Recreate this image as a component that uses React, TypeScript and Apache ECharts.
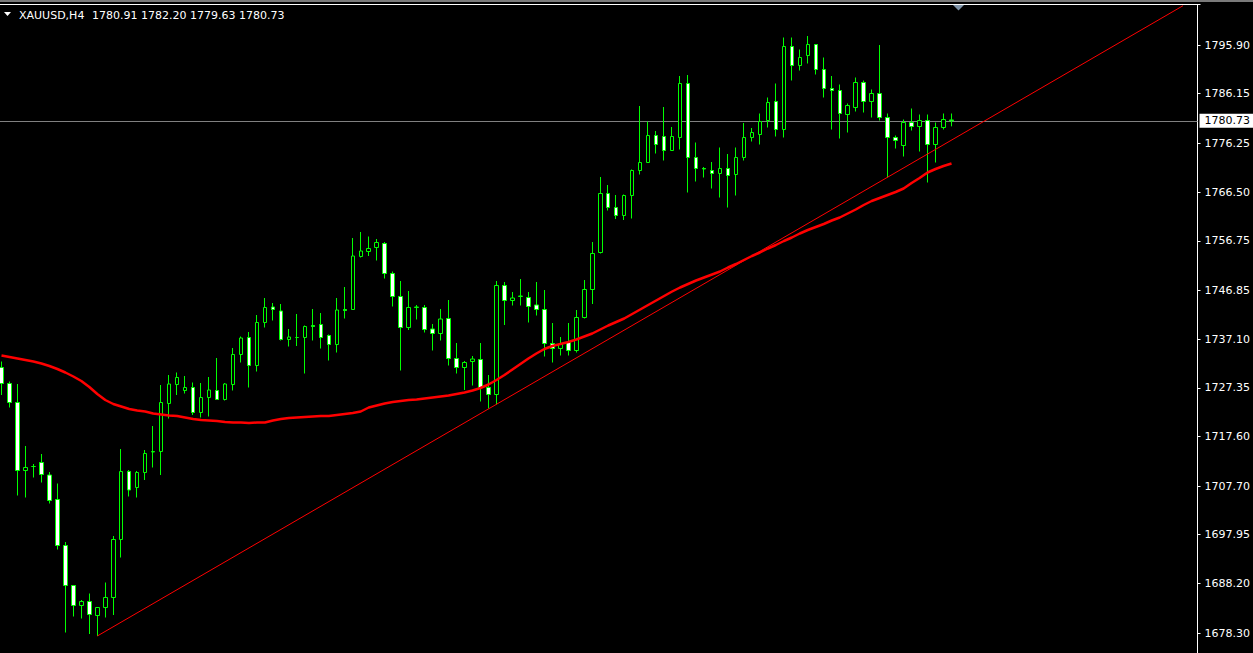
import React, { useEffect, useRef } from "react";
import * as echarts from "echarts";

// ---- DATA ----
const symbolTitle = "XAUUSD,H4";
const lastQuote = ["1780.91", "1782.20", "1779.63", "1780.73"];

const opens = [
  1731.4, 1728.2, 1724.4, 1710.8, 1711.6, 1712.4, 1709.9, 1705.0, 1695.8, 1687.8,
  1683.8, 1684.6, 1681.8, 1683.4, 1685.4, 1697.0, 1710.6, 1707.4, 1710.4, 1714.5,
  1714.6, 1724.2, 1728.0, 1726.8, 1727.4, 1722.4, 1725.4, 1726.8, 1725.0, 1728.0,
  1734.0, 1737.4, 1731.8, 1740.4, 1743.5, 1742.7, 1737.0, 1737.4, 1737.4, 1739.8,
  1740.0, 1737.8, 1736.0, 1743.0, 1743.0, 1753.6, 1754.6, 1755.4, 1756.2, 1750.2,
  1745.6, 1739.4, 1743.4, 1743.4, 1739.1, 1738.2, 1741.2, 1733.2, 1731.4, 1732.6,
  1733.0, 1727.4, 1726.0, 1747.8, 1744.8, 1745.6, 1745.4, 1743.9, 1743.0, 1736.2,
  1735.2, 1736.4, 1734.8, 1741.4, 1747.0, 1754.4, 1766.2, 1763.4, 1761.8, 1765.8,
  1770.8, 1772.4, 1777.8, 1777.6, 1774.8, 1777.4, 1788.2, 1773.4, 1771.2, 1770.8,
  1770.2, 1771.2, 1770.0, 1773.4, 1777.4, 1778.0, 1780.8, 1784.6, 1779.0, 1795.6,
  1791.8, 1793.8, 1796.0, 1791.0, 1787.2, 1786.8, 1782.0, 1783.4, 1788.4, 1784.6,
  1786.2, 1781.4, 1777.4, 1775.8, 1780.4, 1779.6, 1780.8, 1776.0, 1779.4, 1780.91,
];
const highs = [
  1732.6, 1728.6, 1728.1, 1715.7, 1712.1, 1714.1, 1710.5, 1708.2, 1696.5, 1687.9,
  1684.9, 1686.2, 1683.5, 1688.4, 1697.7, 1715.1, 1710.9, 1710.7, 1714.9, 1719.7,
  1727.9, 1729.9, 1730.4, 1729.7, 1728.4, 1728.3, 1729.5, 1733.3, 1728.3, 1735.3,
  1737.6, 1738.5, 1741.9, 1745.3, 1744.3, 1744.1, 1739.1, 1742.1, 1739.8, 1743.1,
  1742.3, 1738.0, 1745.3, 1747.5, 1757.3, 1758.5, 1757.6, 1757.1, 1756.5, 1750.6,
  1748.7, 1746.7, 1743.9, 1743.9, 1740.1, 1743.1, 1744.9, 1736.3, 1732.7, 1733.7,
  1736.3, 1729.9, 1748.7, 1748.5, 1746.5, 1749.1, 1746.5, 1748.5, 1746.9, 1740.3,
  1737.5, 1740.3, 1742.9, 1748.9, 1756.5, 1769.5, 1767.9, 1765.9, 1766.0, 1771.0,
  1783.7, 1780.6, 1778.7, 1783.5, 1779.5, 1789.7, 1789.9, 1776.4, 1771.5, 1772.5,
  1775.4, 1774.1, 1775.4, 1780.3, 1779.3, 1782.2, 1785.4, 1788.2, 1797.4, 1797.4,
  1795.0, 1797.7, 1796.1, 1793.4, 1789.7, 1788.0, 1784.2, 1789.4, 1788.8, 1787.0,
  1795.9, 1782.2, 1777.8, 1781.0, 1783.2, 1782.0, 1782.0, 1780.4, 1782.2, 1782.2,
];
const lows = [
  1725.9, 1723.4, 1705.8, 1705.4, 1709.4, 1708.4, 1704.2, 1695.0, 1678.4, 1681.6,
  1681.2, 1678.1, 1677.7, 1681.4, 1681.9, 1693.4, 1705.6, 1705.4, 1708.9, 1711.4,
  1709.9, 1721.2, 1725.9, 1726.2, 1721.9, 1721.4, 1721.6, 1724.9, 1724.8, 1726.8,
  1732.4, 1727.4, 1730.6, 1739.4, 1740.8, 1736.8, 1735.6, 1735.7, 1730.2, 1736.8,
  1735.2, 1732.8, 1734.4, 1741.2, 1742.9, 1753.4, 1753.7, 1752.8, 1749.2, 1743.6,
  1730.8, 1738.9, 1741.0, 1738.4, 1734.8, 1736.8, 1731.8, 1730.2, 1726.9, 1727.8,
  1724.6, 1723.2, 1724.0, 1739.9, 1743.8, 1743.8, 1740.4, 1741.8, 1733.6, 1732.4,
  1733.8, 1733.8, 1734.4, 1741.2, 1744.1, 1754.2, 1762.8, 1761.1, 1760.9, 1761.2,
  1770.0, 1772.4, 1774.2, 1772.8, 1774.8, 1775.0, 1766.4, 1768.6, 1769.4, 1767.2,
  1765.4, 1763.4, 1765.8, 1772.8, 1776.6, 1776.0, 1779.4, 1777.6, 1777.4, 1788.8,
  1790.8, 1792.2, 1790.0, 1785.4, 1779.0, 1777.2, 1778.4, 1782.6, 1782.4, 1781.4,
  1780.8, 1769.4, 1775.2, 1773.6, 1778.8, 1774.6, 1768.4, 1772.4, 1779.0, 1779.63,
];
const closes = [
  1728.2, 1724.4, 1710.8, 1711.4, 1711.6, 1710.0, 1704.8, 1695.8, 1687.8, 1683.8,
  1684.6, 1682.0, 1683.4, 1685.4, 1697.0, 1710.6, 1706.9, 1710.4, 1714.2, 1714.6,
  1724.4, 1728.1, 1729.4, 1727.4, 1722.4, 1725.4, 1726.9, 1725.0, 1728.1, 1734.0,
  1737.3, 1731.8, 1740.4, 1743.4, 1743.0, 1737.0, 1737.5, 1737.4, 1739.6, 1739.6,
  1737.4, 1736.0, 1742.9, 1742.8, 1753.7, 1754.7, 1755.2, 1756.4, 1750.2, 1745.6,
  1739.4, 1743.4, 1743.5, 1739.0, 1738.2, 1741.1, 1733.2, 1731.4, 1732.4, 1733.1,
  1727.4, 1726.0, 1747.8, 1744.8, 1745.3, 1745.7, 1743.6, 1743.0, 1736.2, 1735.2,
  1736.0, 1734.8, 1741.4, 1747.0, 1754.2, 1766.2, 1763.4, 1761.8, 1765.8, 1770.8,
  1772.4, 1777.8, 1776.0, 1774.8, 1777.6, 1788.2, 1773.4, 1771.2, 1771.1, 1770.2,
  1771.2, 1769.8, 1773.4, 1777.4, 1778.4, 1780.6, 1784.4, 1779.0, 1795.6, 1791.8,
  1793.4, 1796.0, 1791.0, 1787.2, 1786.8, 1782.2, 1783.8, 1788.4, 1784.6, 1786.2,
  1781.4, 1777.4, 1776.8, 1780.4, 1779.6, 1780.8, 1776.0, 1779.4, 1781.0, 1780.73,
];
// moving average (thick red line), read per candle
const maValues = [
  1733.8, 1733.5, 1733.2, 1732.9, 1732.6, 1732.2, 1731.7, 1731.1, 1730.4, 1729.6,
  1728.7, 1727.5, 1726.1, 1724.9, 1724.1, 1723.6, 1723.1, 1722.8, 1722.6, 1722.2,
  1722.0, 1721.8, 1721.7, 1721.4, 1721.1, 1720.9, 1720.8, 1720.7, 1720.5, 1720.4,
  1720.4, 1720.3, 1720.4, 1720.4, 1720.8, 1721.1, 1721.3, 1721.4, 1721.5, 1721.6,
  1721.7, 1721.7, 1721.9, 1722.1, 1722.3, 1722.6, 1723.4, 1723.8, 1724.2, 1724.5,
  1724.7, 1724.9, 1725.0, 1725.2, 1725.4, 1725.6, 1725.8, 1726.1, 1726.4, 1726.8,
  1727.3, 1728.0, 1728.9, 1729.9, 1731.0, 1732.1, 1733.2, 1734.2, 1735.1, 1735.7,
  1736.1, 1736.5, 1737.0, 1737.6, 1738.2, 1739.0, 1739.8, 1740.5, 1741.2, 1742.1,
  1743.0, 1743.9, 1744.8, 1745.7, 1746.6, 1747.4, 1748.1, 1748.8, 1749.4, 1750.0,
  1750.6, 1751.4, 1752.1, 1752.9, 1753.7, 1754.4, 1755.2, 1755.9, 1756.7, 1757.4,
  1758.2, 1758.9, 1759.5, 1760.1, 1760.8, 1761.4, 1762.2, 1763.0, 1763.9, 1764.7,
  1765.3, 1765.9, 1766.5, 1767.2, 1768.3, 1769.3, 1770.4, 1771.1, 1771.7, 1772.2,
];
// trend line anchors: [bar index, price]
const trendStart = [12, 1677.7];
const trendEnd = [148, 1803.76];
// price scale tick labels
const priceTicks = [
  1795.9, 1786.15, 1776.25, 1766.5, 1756.75, 1746.85, 1737.1, 1727.35, 1717.6,
  1707.7, 1697.95, 1688.2, 1678.3,
];
const bidPrice = 1780.73;

const FONT = "'DejaVu Sans', Tahoma, sans-serif";

export default function App() {
  const ref = useRef<HTMLDivElement>(null);
  useEffect(() => {
    if (!ref.current) return;
    const chart = echarts.init(ref.current, undefined, { renderer: "svg" });
    const candles = opens.map((o, i) => [i, o, closes[i], lows[i], highs[i]]);
    const ma = maValues.map((v, i) => [i, v]);
    chart.setOption({
      animation: false,
      backgroundColor: "#000000",
      grid: { left: 0, right: 53, top: 5, bottom: 0, containLabel: false },
      xAxis: {
        type: "value",
        min: -0.1875,
        max: 149.8125,
        show: false,
        splitLine: { show: false },
      },
      yAxis: {
        type: "value",
        position: "right",
        min: 1674.3,
        max: 1803.9,
        scale: true,
        splitLine: { show: false },
        axisLine: { show: true, onZero: false, lineStyle: { color: "#ffffff", width: 1 } },
        axisTick: {
          show: true,
          length: 3,
          lineStyle: { color: "#ffffff" },
          customValues: priceTicks,
        },
        axisLabel: {
          color: "#ffffff",
          fontFamily: FONT,
          fontSize: 11,
          margin: 7,
          customValues: priceTicks,
          formatter: (v: number) => v.toFixed(2),
        },
      },
      series: [
        {
          type: "candlestick",
          data: candles,
          barWidth: 4,
          z: 3,
          clip: true,
          itemStyle: {
            color: "#000000",
            color0: "#ffffff",
            borderColor: "#00ff00",
            borderColor0: "#00ff00",
            borderColorDoji: "#00ff00",
            borderWidth: 1,
          },
          emphasis: { disabled: true },
          markLine: {
            silent: true,
            z: 1,
            symbol: "none",
            animation: false,
            lineStyle: { color: "#808080", width: 1, type: "solid" },
            label: {
              show: true,
              position: "end",
              distance: 2,
              formatter: (p: any) => Number(p.value).toFixed(2),
              backgroundColor: "#ffffff",
              color: "#000000",
              fontFamily: FONT,
              fontSize: 11,
              lineHeight: 12,
              padding: [1, 4, 1, 5],
            },
            emphasis: { disabled: true },
            data: [{ yAxis: bidPrice }],
          },
        },
        {
          type: "line",
          data: ma,
          z: 5,
          showSymbol: false,
          symbol: "none",
          clip: true,
          lineStyle: { color: "#ff0000", width: 2.5 },
          emphasis: { disabled: true },
        },
        {
          type: "line",
          data: [trendStart, trendEnd],
          z: 5,
          symbol: "none",
          clip: true,
          lineStyle: { color: "#ff0000", width: 1 },
          emphasis: { disabled: true },
        },
      ],
      graphic: [
        { type: "rect", shape: { x: 0, y: 0, width: 1253, height: 2 }, style: { fill: "#7a7a7a" }, silent: true },
        { type: "line", shape: { x1: 0, y1: 4.5, x2: 1200.5, y2: 4.5 }, style: { stroke: "#ffffff", lineWidth: 1 }, silent: true },
        { type: "polygon", shape: { points: [[953, 5], [964, 5], [958.5, 10.5]] }, style: { fill: "#7f93a8" }, silent: true },
        { type: "polygon", shape: { points: [[4, 12], [11, 12], [7.5, 16]] }, style: { fill: "#ffffff" }, silent: true },
        {
          type: "text",
          x: 19,
          y: 15,
          style: { text: symbolTitle, fill: "#ffffff", font: `11px ${FONT}`, verticalAlign: "middle", align: "left" },
          silent: true,
        },
        {
          type: "text",
          x: 92,
          y: 15,
          style: { text: lastQuote.join(" "), fill: "#ffffff", font: `11px ${FONT}`, verticalAlign: "middle", align: "left" },
          silent: true,
        },
      ],
    });
    return () => chart.dispose();
  }, []);
  return (
    <div
      ref={ref}
      style={{ position: "fixed", left: 0, top: 0, width: 1253, height: 653, background: "#000" }}
    />
  );
}
